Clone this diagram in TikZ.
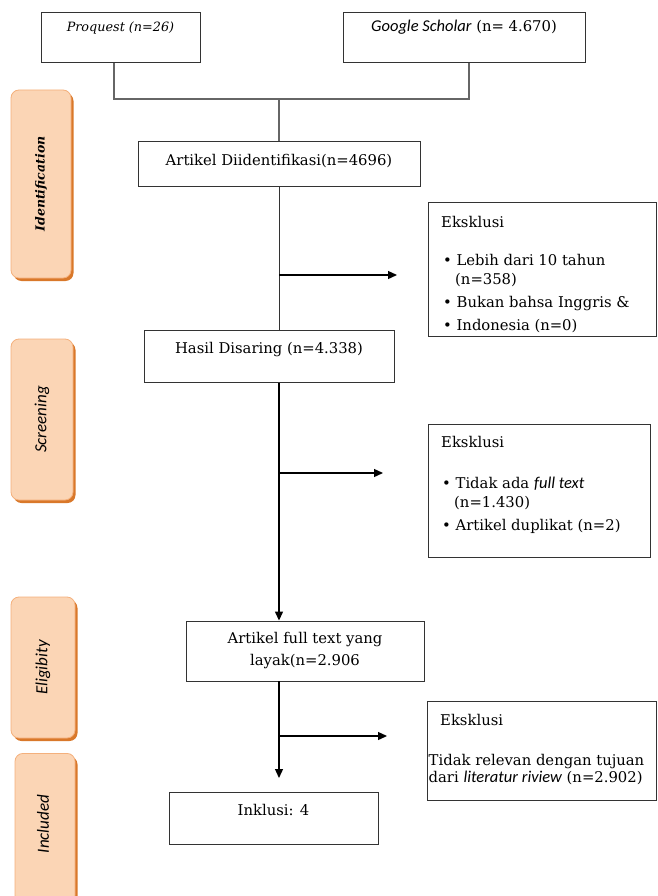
\documentclass[tikz,border=0pt]{standalone}
\usepackage{fontspec}
\usepackage{graphicx}
\setmainfont{DejaVu Serif}
\newfontfamily\carlito{Carlito}
\usetikzlibrary{arrows.meta,shadows}
\definecolor{ofill}{HTML}{FBD5B5}
\definecolor{oedge}{HTML}{F4B07C}
\definecolor{oshade}{HTML}{D9782A}
\definecolor{lineg}{HTML}{666666}
\newcommand{\itsans}[1]{{\carlito\itshape #1}}
\begin{document}
\begin{tikzpicture}[x=1pt,y=-1pt,
  font=\fontsize{14.8}{17}\selectfont,
  box/.style={draw=black!80, line width=0.9pt, inner xsep=0pt, inner ysep=5pt},
  ebox/.style={draw=black!80, line width=0.9pt, inner sep=0pt, anchor=north west},
  etext/.style={anchor=base west, inner sep=0pt},
  phase/.style={rounded corners=8pt, fill=ofill, draw=oedge, line width=0.8pt,
     inner sep=0pt, drop shadow={shadow xshift=2.5pt, shadow yshift=-3pt, fill=oshade, opacity=1}},
  conn/.style={draw=lineg, line width=1.3pt},
  plain/.style={draw=black!80, line width=1pt},
  arr/.style={draw=black, line width=1.3pt, -{Triangle[length=9pt,width=8pt]}}]
\useasboundingbox (0,0) rectangle (657,896);

% phase labels
\node[phase, minimum width=60pt, minimum height=188pt] (ph1) at (41,184)
  {\rotatebox{90}{\fontsize{12.5}{13}\selectfont\bfseries\itshape Identification}};
\node[phase, minimum width=62pt, minimum height=161pt] (ph2) at (42,419.5)
  {\rotatebox{90}{\fontsize{17}{17}\selectfont\itsans{Screening}}};
\node[phase, minimum width=64pt, minimum height=141pt] (ph3) at (43,667.5)
  {\rotatebox{90}{\fontsize{17}{17}\selectfont\itsans{Eligibity}}};
\node[phase, minimum width=60pt, minimum height=150pt, anchor=north] (ph4) at (45,753) {};
\node (ph4t) at (43,824) {\rotatebox{90}{\fontsize{17}{17}\selectfont\itsans{Included}}};

% source boxes
\node[box, anchor=north, minimum width=159pt, text height=14pt, text depth=26pt] (pro) at (120.5,12)
  {\fontsize{12.8}{14}\selectfont\itshape Proquest (n=26)};
\node[box, anchor=north, minimum width=242pt, text height=14pt, text depth=26pt] (gs) at (464,12)
  {\itsans{\fontsize{16.5}{16}\selectfont Google Scholar} (n= 4.670)};

% main flow boxes
\node[box, anchor=north, minimum width=282pt, text height=19pt, text depth=16pt] (art) at (279,141)
  {Artikel Diidentifikasi(n=4696)};
\node[box, anchor=north, minimum width=250pt, text height=18pt, text depth=24pt] (hasil) at (269,330)
  {Hasil Disaring (n=4.338)};
\node[box, minimum width=238pt, minimum height=60pt, align=center,
  font=\fontsize{14.8}{22}\selectfont] (full) at (305,651)
  {Artikel full text yang\\layak(n=2.906};
\node[box, anchor=north, minimum width=209pt, text height=18pt, text depth=24pt] (inkl) at (273.5,792)
  {Inklusi: 4};

% exclusion boxes
\node[ebox, minimum width=228pt, minimum height=134pt] (e1) at (428,202) {};
\node[etext] (e1a) at (441,227) {Eksklusi};
\node[etext] (e1b) at (443,265) {• Lebih dari 10 tahun};
\node[etext] (e1c) at (455,284) {(n=358)};
\node[etext] (e1d) at (443,307) {• Bukan bahsa Inggris \&};
\node[etext] (e1e) at (443,330) {• Indonesia (n=0)};

\node[ebox, minimum width=222pt, minimum height=133pt] (e2) at (428,424) {};
\node[etext] (e2a) at (441,447) {Eksklusi};
\node[etext] (e2b) at (442,488) {• Tidak ada \itsans{\fontsize{16.5}{16}\selectfont full text}};
\node[etext] (e2c) at (454,507) {(n=1.430)};
\node[etext] (e2d) at (442,530) {• Artikel duplikat (n=2)};

\node[ebox, minimum width=229pt, minimum height=99pt] (e3) at (427,701) {};
\node[etext] (e3a) at (440,725) {Eksklusi};
\node[etext] (e3b) at (428.5,765) {Tidak relevan dengan tujuan};
\node[etext] (e3c) at (428.5,782) {dari \itsans{\fontsize{16.5}{16}\selectfont literatur riview} (n=2.902)};

% connectors
\coordinate (j) at (279,99);
\draw[conn] ([xshift=-6.5pt]pro.south) |- (j) -| ([xshift=5pt]gs.south);
\draw[conn] (j) -- (art.north);
\draw[plain] (art.south) -- (art.south |- hasil.north);
\coordinate (b1) at (279,275);
\coordinate (t1) at (397,275);
\draw[arr] (b1) -- (t1);
\draw[arr] (art.south |- hasil.south) -- (art.south |- full.north);
\coordinate (b2) at (279,473);
\coordinate (t2) at (383,473);
\draw[arr] (b2) -- (t2);
\coordinate (t3) at (279,778);
\draw[arr] (art.south |- full.south) -- (t3);
\coordinate (b4) at (279,736);
\coordinate (t4) at (387,736);
\draw[arr] (b4) -- (t4);
\end{tikzpicture}
\end{document}
